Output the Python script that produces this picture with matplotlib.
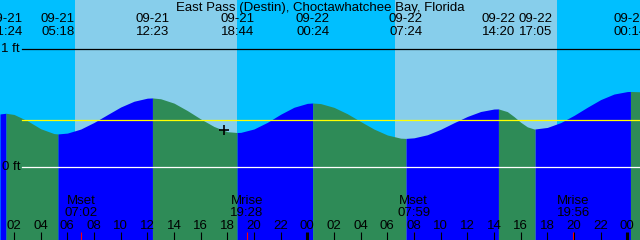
import matplotlib
matplotlib.use("Agg")
import matplotlib.pyplot as plt
import matplotlib.transforms as mtransforms
import numpy as np

plt.rcParams['font.family'] = ['Liberation Sans', 'DejaVu Sans']

TITLE = "East Pass (Destin), Choctawhatchee Bay, Florida"

# Tide extremes shown along the top (date, time)
extreme_dates = ["09-21", "09-21", "09-21", "09-21", "09-22", "09-22", "09-22", "09-22", "09-23"]
extreme_times = ["01:24", "05:18", "12:23", "18:44", "00:24", "07:24", "14:20", "17:05", "00:14"]

# Tide curve (hours since 09-21 00:00, height in ft)
curve_hours = [0.95, 1.0, 1.4, 2, 3, 4, 5, 5.3, 6, 7, 8, 9, 10, 11, 12, 12.383,
               13, 14, 15, 16, 17, 18, 18.733, 19, 20, 21, 22, 23, 24, 24.4,
               25, 26, 27, 28, 29, 30, 31, 31.4, 32, 33, 34, 35, 36, 37, 38, 38.333,
               39, 39.5, 40, 40.5, 41, 41.083, 42, 43, 44, 45, 46, 47, 48, 48.233, 49]
curve_ft = [0.449, 0.450, 0.455, 0.445, 0.392, 0.324, 0.283, 0.280, 0.287, 0.321, 0.377,
            0.443, 0.508, 0.557, 0.583, 0.585,
            0.578, 0.541, 0.478, 0.407, 0.343, 0.299, 0.292, 0.293, 0.322, 0.378, 0.447,
            0.506, 0.539, 0.542,
            0.537, 0.505, 0.451, 0.385, 0.321, 0.271, 0.244, 0.242, 0.247, 0.273, 0.319,
            0.375, 0.428, 0.470, 0.491, 0.492,
            0.469, 0.427, 0.379, 0.340, 0.322, 0.322, 0.335, 0.376, 0.437, 0.506, 0.571,
            0.618, 0.639, 0.640, 0.637]

# Daylight (hours since 09-21 00:00)
sunrise_hours = [6.57, 30.57]
sunset_hours = [18.72, 42.72]

# Moon events
moon_events = ["Mset", "Mrise", "Mset", "Mrise"]
moon_dates = ["09-21", "09-21", "09-22", "09-22"]
moon_times = ["07:02", "19:28", "07:59", "19:56"]

mean_level_ft = 0.40
now_hour = 17.75
now_ft = 0.31

hour_ticks = list(range(2, 49, 2))

X_MIN, X_MAX = 0.95, 48.95
Y_MIN, Y_MAX = -0.619, 1.415

NIGHT = "#00BFFF"
DAY = "#87CEEB"
RISING = "#0000FF"
FALLING = "#2E8B57"
FS = 9.5


def to_hours(date, time):
    day = int(date.split("-")[1]) - 21
    hh, mm = time.split(":")
    return day * 24 + int(hh) + int(mm) / 60.0


W, H = 640, 240
fig = plt.figure(figsize=(W / 100, H / 100), dpi=100, facecolor=NIGHT)
ax = fig.add_axes([0, 0, 1, 1])
ax.set_xlim(X_MIN, X_MAX)
ax.set_ylim(Y_MIN, Y_MAX)
ax.axis('off')

bx = mtransforms.blended_transform_factory(ax.transData, ax.transAxes)
by = mtransforms.blended_transform_factory(ax.transAxes, ax.transData)

# sky background
ax.axvspan(X_MIN, X_MAX, color=NIGHT, lw=0, zorder=0)
for r, s in zip(sunrise_hours, sunset_hours):
    ax.axvspan(r, s, color=DAY, lw=0, zorder=0.5)

# tide fill
t = np.array(curve_hours)
h = np.array(curve_ft)
ext_hours = [to_hours(d, tm) for d, tm in zip(extreme_dates, extreme_times)]
bounds = [t[0]] + ext_hours + [t[-1]]
for a, b in zip(bounds[:-1], bounds[1:]):
    m = (t >= a - 1e-2) & (t <= b + 1e-2)
    if m.sum() < 2:
        continue
    rising = h[m][-1] > h[m][0]
    ax.fill_between(t[m], Y_MIN, h[m], color=RISING if rising else FALLING,
                    lw=0, zorder=1, antialiased=True)

# reference lines
x0 = 22 / W
ax.axhline(1.0, xmin=x0, xmax=1, color="black", lw=0.9, zorder=2)
ax.axhline(0.0, xmin=x0, xmax=1, color="white", lw=0.9, zorder=2)
ax.axhline(mean_level_ft, xmin=x0, xmax=1, color="yellow", lw=0.9, zorder=2)
ax.text(20 / W, 1.0, "1 ft", transform=by, ha="right", va="center", fontsize=FS, zorder=3)
ax.text(20 / W, 0.0, "0 ft", transform=by, ha="right", va="center", fontsize=FS, zorder=3)

# now marker
ax.plot([now_hour], [now_ft], marker="+", color="black", ms=7, mew=1.2, zorder=4)

# title
ax.text(0.5, 1 - 8 / H, TITLE, transform=ax.transAxes, ha="center", va="center",
        fontsize=FS, zorder=3)

# extreme labels
for d, tm, x in zip(extreme_dates, extreme_times, ext_hours):
    ax.text(x, 1 - 19.5 / H, d, transform=bx, ha="center", va="center", fontsize=FS, zorder=3)
    ax.text(x, 1 - 32 / H, tm, transform=bx, ha="center", va="center", fontsize=FS, zorder=3)

# moon labels and ticks
for ev, d, tm in zip(moon_events, moon_dates, moon_times):
    x = to_hours(d, tm)
    ax.text(x, 1 - 201.5 / H, ev, transform=bx, ha="center", va="center", fontsize=FS, zorder=3)
    ax.text(x, 1 - 213.5 / H, tm, transform=bx, ha="center", va="center", fontsize=FS, zorder=3)
    ax.vlines(x, 0, 8 / H, transform=bx, color="red", lw=0.8, zorder=3)

# hour ticks and labels
for hr in hour_ticks:
    lw = 2.2 if hr % 24 == 0 else 0.8
    ax.vlines(hr, 0, 8 / H, transform=bx, color="black", lw=lw, zorder=3)
    ax.text(hr, 1 - 226 / H, f"{hr % 24:02d}", transform=bx, ha="center", va="center",
            fontsize=FS, zorder=3)

fig.savefig("out.png", dpi=100, facecolor=fig.get_facecolor())
